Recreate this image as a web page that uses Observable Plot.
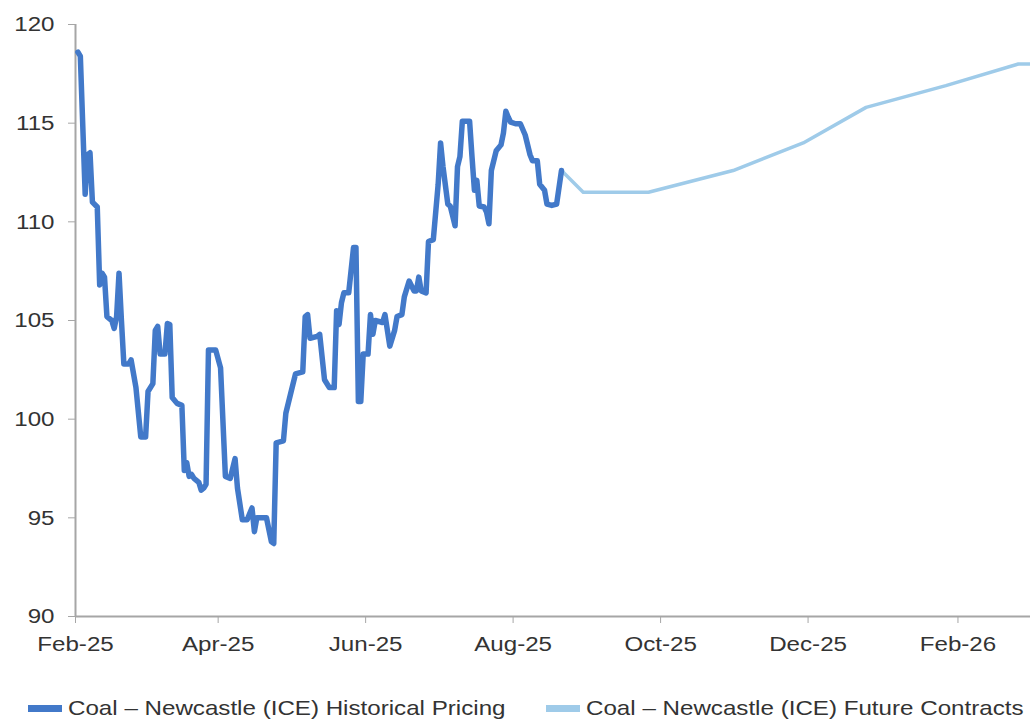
<!DOCTYPE html>
<html>
<head>
<meta charset="utf-8">
<script src="https://cdn.jsdelivr.net/npm/d3@7"></script>
<script src="https://cdn.jsdelivr.net/npm/@observablehq/plot@0.6"></script>
<style>
  html, body { margin: 0; padding: 0; background: #fff; }
  #wrap { position: relative; width: 1030px; height: 719px; overflow: hidden; font-family: "Liberation Sans", Arial, sans-serif; }
  #legend { position: absolute; left: 0; top: 694px; width: 1030px; height: 28px; font-size: 21px; color: #333; }
  .item { position: absolute; top: 0; display: flex; align-items: center; white-space: nowrap; line-height: 28px; }
  .sw { width: 34px; height: 7px; margin-right: 6px; flex: none; }
  .txt { display: inline-block; transform: scaleX(1.15); transform-origin: left center; }
</style>
</head>
<body>
<div id="wrap">
  <div id="chart"></div>
  <div id="legend"></div>
</div>
<script>
const histDates = ["2025-02-02","2025-02-03","2025-02-05","2025-02-06","2025-02-07","2025-02-08","2025-02-10","2025-02-11","2025-02-12","2025-02-13","2025-02-14","2025-02-16","2025-02-17","2025-02-18","2025-02-19","2025-02-20","2025-02-21","2025-02-23","2025-02-24","2025-02-26","2025-02-28","2025-03-02","2025-03-03","2025-03-05","2025-03-06","2025-03-07","2025-03-08","2025-03-10","2025-03-11","2025-03-12","2025-03-13","2025-03-15","2025-03-17","2025-03-18","2025-03-19","2025-03-20","2025-03-21","2025-03-22","2025-03-24","2025-03-25","2025-03-26","2025-03-27","2025-03-28","2025-03-31","2025-04-02","2025-04-04","2025-04-06","2025-04-08","2025-04-09","2025-04-11","2025-04-13","2025-04-15","2025-04-16","2025-04-17","2025-04-21","2025-04-23","2025-04-24","2025-04-25","2025-04-28","2025-04-29","2025-05-01","2025-05-03","2025-05-06","2025-05-07","2025-05-08","2025-05-09","2025-05-12","2025-05-13","2025-05-15","2025-05-17","2025-05-19","2025-05-20","2025-05-21","2025-05-22","2025-05-23","2025-05-25","2025-05-27","2025-05-28","2025-05-29","2025-05-30","2025-05-31","2025-06-02","2025-06-03","2025-06-04","2025-06-05","2025-06-08","2025-06-09","2025-06-11","2025-06-13","2025-06-14","2025-06-16","2025-06-17","2025-06-19","2025-06-21","2025-06-22","2025-06-23","2025-06-24","2025-06-26","2025-06-27","2025-06-29","2025-07-01","2025-07-02","2025-07-03","2025-07-05","2025-07-06","2025-07-07","2025-07-08","2025-07-09","2025-07-10","2025-07-11","2025-07-13","2025-07-14","2025-07-15","2025-07-16","2025-07-17","2025-07-18","2025-07-20","2025-07-21","2025-07-22","2025-07-23","2025-07-25","2025-07-27","2025-07-28","2025-07-29","2025-07-30","2025-07-31","2025-08-02","2025-08-04","2025-08-06","2025-08-08","2025-08-09","2025-08-11","2025-08-12","2025-08-14","2025-08-15","2025-08-17","2025-08-19","2025-08-21"];
const histValues = [118.6,118.4,111.4,113.4,113.5,111.0,110.75,106.8,107.4,107.2,105.2,105.0,104.6,105.2,107.4,105.0,102.8,102.8,103.0,101.6,99.1,99.1,101.4,101.8,104.5,104.7,103.3,103.3,104.85,104.8,101.1,100.8,100.7,97.4,97.8,97.1,97.2,97.0,96.8,96.4,96.5,96.7,103.5,103.5,102.6,97.1,97.0,98.0,96.5,94.9,94.9,95.5,94.3,95.0,95.0,93.8,93.7,98.8,98.9,100.3,101.3,102.3,102.4,105.2,105.3,104.1,104.2,104.3,102.0,101.6,101.6,105.5,104.8,105.9,106.4,106.4,108.7,108.7,100.9,100.9,103.3,103.3,105.3,104.3,105.0,104.9,105.3,103.7,104.5,105.2,105.3,106.2,107.0,106.5,106.5,107.2,106.5,106.4,109.0,109.1,111.9,114.0,112.8,110.9,110.8,110.3,109.8,112.8,113.3,115.1,115.1,115.1,113.3,111.6,112.1,110.8,110.75,110.5,109.9,112.6,113.6,113.9,114.5,115.6,115.3,115.05,114.97,114.97,114.4,113.4,113.1,113.1,111.9,111.6,110.9,110.83,110.9,112.6];

const futDates = ["2025-08-21","2025-08-30","2025-09-26","2025-10-31","2025-11-29","2025-12-25","2026-01-27","2026-02-26","2026-03-03"];
const futValues = [112.6,111.5,111.5,112.6,114.0,115.8,116.9,118.0,118.0];

const yTicks = [90,95,100,105,110,115,120];
const xTicks = ["2025-02-01","2025-04-01","2025-06-01","2025-08-01","2025-10-01","2025-12-01","2026-02-01"];
const xDomain = ["2025-02-01","2026-03-03"];

const seriesNames = ["Coal \u2013 Newcastle (ICE) Historical Pricing","Coal \u2013 Newcastle (ICE) Future Contracts"];
const seriesColors = ["#4279c9","#9fcbe9"];

const hist = histDates.map((d,i) => ({date: new Date(d), value: histValues[i]}));
const fut = futDates.map((d,i) => ({date: new Date(d), value: futValues[i]}));
const fmt = d3.utcFormat("%b-%y");

const chart = Plot.plot({
  width: 1030,
  height: 690,
  marginTop: 24,
  marginBottom: 74,
  marginLeft: 75,
  marginRight: 0,
  style: {fontFamily: "'Liberation Sans', Arial, sans-serif", fontSize: "21px", color: "#333", background: "#fff"},
  x: {type: "utc", domain: xDomain.map(d => new Date(d))},
  y: {domain: [90, 120]},
  marks: [
    Plot.ruleY([90], {stroke: "#a6a6a6", strokeWidth: 2}),
    Plot.ruleX([new Date(xDomain[0])], {stroke: "#a6a6a6", strokeWidth: 2}),
    Plot.axisY({ticks: yTicks, tickSize: 7, tickPadding: 14, stroke: "#a6a6a6", label: null}),
    Plot.axisX({ticks: xTicks.map(d => new Date(d)), tickFormat: fmt, tickSize: 7, tickPadding: 13, stroke: "#a6a6a6", label: null}),
    Plot.line(fut, {x: "date", y: "value", stroke: seriesColors[1], strokeWidth: 3.5, strokeLinejoin: "round"}),
    Plot.line(hist, {x: "date", y: "value", stroke: seriesColors[0], strokeWidth: 5.5, strokeLinejoin: "round", strokeLinecap: "round"})
  ]
});
// widen tick label glyphs horizontally to match the reference's stretched type
chart.querySelectorAll('g[aria-label$="tick label"] text').forEach(t => {
  const tr = t.getAttribute("transform") || "";
  t.setAttribute("transform", (tr + " scale(1.15,1)").trim());
});
document.getElementById("chart").appendChild(chart);

const legend = document.getElementById("legend");
const lefts = [28, 546];
seriesNames.forEach((name, i) => {
  const item = document.createElement("div");
  item.className = "item";
  item.style.left = lefts[i] + "px";
  const sw = document.createElement("span");
  sw.className = "sw";
  sw.style.background = seriesColors[i];
  const t = document.createElement("span");
  t.className = "txt";
  t.textContent = name;
  item.appendChild(sw);
  item.appendChild(t);
  legend.appendChild(item);
});
</script>
</body>
</html>
